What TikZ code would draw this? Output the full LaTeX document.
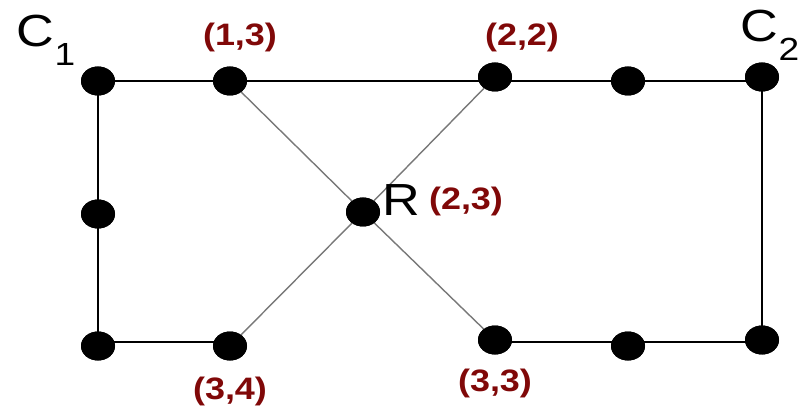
\documentclass[tikz,border=0pt]{standalone}
\usepackage{fontspec}
\setmainfont{Liberation Sans}
\usetikzlibrary{shapes.geometric}
\definecolor{lblred}{RGB}{128,8,8}
\definecolor{diaggray}{RGB}{120,120,120}
\tikzset{
  dot/.style={ellipse, fill=black, draw=none, inner sep=0pt, minimum width=34pt, minimum height=29pt},
  edge/.style={draw=black, line width=2pt},
  diag/.style={draw=diaggray, line width=1.4pt},
  lbl/.style={text=lblred, inner sep=0pt, font=\fontsize{31}{31}\selectfont\bfseries},
  big/.style={text=black, inner sep=0pt, font=\fontsize{45}{45}\selectfont},
  sub/.style={text=black, inner sep=0pt, font=\fontsize{32}{32}\selectfont},
}
\newcommand{\hs}[1]{\scalebox{1.16}[1]{#1}}
\begin{document}
\begin{tikzpicture}[x=1pt,y=-1pt]
\useasboundingbox (0,0) rectangle (807,409);
% dots
\node[dot] (c1)  at (98,81) {};
\node[dot] (n13) at (230,81) {};
\node[dot] (n22) at (495,77) {};
\node[dot] (t4)  at (628,81) {};
\node[dot] (c2)  at (762,77) {};
\node[dot] (m1)  at (98,214) {};
\node[dot] (r)   at (363,212) {};
\node[dot] (b1)  at (98,346) {};
\node[dot] (n34) at (230,346) {};
\node[dot] (n33) at (495,340) {};
\node[dot] (b4)  at (628,346) {};
\node[dot] (b5)  at (762,340) {};
% connectors
\draw[edge] (c1.center) -- (n22.center |- c1.center) -- (c2.center |- c1.center);
\draw[edge] (c2.center) -- (b5.center);
\draw[edge] (c1.center) -- (m1.center) -- (b1.center);
\draw[edge] (b1.center |- 0,342) -- (n34.center |- 0,342);
\draw[edge] (n33.center |- 0,342) -- (b5.center |- 0,342);
\draw[diag] (n13) -- (r) -- (n33);
\draw[diag] (n22) -- (r) -- (n34);
% redraw dots on top
\foreach \n in {c1,n13,n22,t4,c2,m1,r,b1,n34,n33,b4,b5}
  \fill (\n.center) ellipse[x radius=17pt, y radius=14.5pt];
% labels
\node[big] (c1t) at (35,31) {\hs{C}};
\node[sub] (c1s) at (65,54) {\hs{1}};
\node[big] (c2t) at (759,26) {\hs{C}};
\node[sub] (c2s) at (789,49) {\hs{2}};
\node[big] (rt) at (401,200) {\hs{R}};
\node[lbl] (l13) at (240,37) {\hs{(1,3)}};
\node[lbl] (l22) at (522,37) {\hs{(2,2)}};
\node[lbl] (l23) at (466,201) {\hs{(2,3)}};
\node[lbl] (l34) at (230,391) {\hs{(3,4)}};
\node[lbl] (l33) at (495,383) {\hs{(3,3)}};
\end{tikzpicture}
\end{document}
